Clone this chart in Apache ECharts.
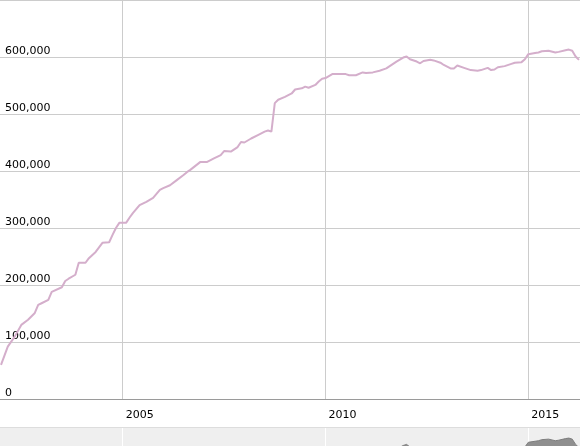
<!DOCTYPE html>
<html>
<head>
<meta charset="utf-8">
<script src="https://cdn.jsdelivr.net/npm/echarts@6.0.0/dist/echarts.min.js"></script>
<style>
html,body{margin:0;padding:0;background:#fff;}
#chart{width:580px;height:446px;}
</style>
</head>
<body>
<div id="chart"></div>
<script>
var months = ['2002-01','2002-03','2002-05','2002-07','2002-09','2002-11','2002-12',
'2003-01','2003-03','2003-04','2003-07','2003-08','2003-09','2003-11','2003-12',
'2004-02','2004-03','2004-05','2004-07','2004-09','2004-10','2004-11','2004-12',
'2005-02','2005-03','2005-04','2005-06','2005-08','2005-10','2005-12',
'2006-01','2006-03','2006-05','2006-07','2006-08','2006-09','2006-12',
'2007-02','2007-04','2007-06','2007-07','2007-09','2007-11','2007-12',
'2008-01','2008-03','2008-05','2008-07','2008-08','2008-09','2008-10','2008-11',
'2009-01','2009-03','2009-04','2009-06','2009-07','2009-08','2009-10','2009-11','2009-12',
'2010-01','2010-03','2010-05','2010-07','2010-08','2010-10','2010-12',
'2011-01','2011-03','2011-05','2011-07','2011-08','2011-10','2011-12',
'2012-01','2012-02','2012-04','2012-05','2012-06','2012-08','2012-09','2012-11','2012-12',
'2013-02','2013-03','2013-04','2013-06','2013-08','2013-10','2013-11',
'2014-01','2014-02','2014-03','2014-04','2014-06','2014-08','2014-09','2014-11','2014-12',
'2015-01','2015-03','2015-04','2015-05','2015-07','2015-09','2015-10','2015-12',
'2016-01','2016-02','2016-03','2016-04'];
var values = [60000,92000,109000,130000,139000,151000,165000,
168000,174000,188000,196000,207000,211000,218000,239000,
239000,247000,258000,274000,275000,288000,300000,309000,
309000,318000,326000,340000,346000,353000,367000,
370000,375000,384000,393000,398000,402000,416000,
416000,422000,428000,435000,434000,442000,451000,
450000,457000,463000,469000,471000,469000,519000,525000,
530000,536000,543000,545000,548000,546000,551000,557000,562000,
563000,570000,570000,570000,568000,568000,573000,
572000,573000,576000,580000,584000,592000,599000,
601000,596000,592000,589000,593000,595000,594000,590000,586000,
580000,580000,585000,581000,577000,576000,577000,
581000,577000,578000,582000,584000,588000,590000,591000,596000,
605000,607000,608000,610000,611000,608000,609000,612000,
613000,611000,601000,595000];
var yearTicks = [2005, 2010, 2015];
var yTicks = [0,100000,200000,300000,400000,500000,600000];

// month string -> fractional year (position on the value axis)
function toYear(m){ var p = m.split('-'); return +p[0] + (+p[1] - 1) / 12; }
var data = months.map(function(m, i){ return [toYear(m), values[i]]; });
var xMin = 2001.975, xMax = 2016.275;
var font = 'DejaVu Sans, Verdana, sans-serif';

var chart = echarts.init(document.getElementById('chart'), null, {renderer:'canvas'});
chart.setOption({
  animation: false,
  backgroundColor: '#fff',
  grid: [
    {left: 0, right: 0, top: 0, bottom: 47, containLabel: false},
    {left: 0, right: 0, top: 427, height: 19, show: true, backgroundColor: '#efefef', borderWidth: 0}
  ],
  xAxis: [
    {
      type: 'value', gridIndex: 0, min: xMin, max: xMax,
      axisLine: {show: true, lineStyle: {color: '#9a9a9a', width: 1}},
      axisTick: {show: false, customValues: yearTicks},
      axisLabel: {
        customValues: yearTicks,
        formatter: function(v){ return String(Math.round(v)); },
        align: 'left', padding: [0,0,0,3], margin: 11,
        fontFamily: font, fontSize: 11, color: '#000'
      },
      splitLine: {show: true, lineStyle: {color: '#cccccc', width: 1}}
    },
    {
      type: 'value', gridIndex: 1, min: xMin, max: xMax, position: 'top',
      axisLine: {show: true, lineStyle: {color: '#dddddd'}},
      axisTick: {show: false, customValues: yearTicks},
      axisLabel: {show: false},
      splitLine: {show: true, lineStyle: {color: '#ffffff', width: 1}}
    }
  ],
  yAxis: [
    {
      type: 'value', gridIndex: 0, min: 0, max: 700000, interval: 100000,
      axisLine: {show: false}, axisTick: {show: false},
      axisLabel: {
        inside: true, margin: 5, align: 'left', verticalAlign: 'bottom',
        padding: [0,0,0,0],
        fontFamily: font, fontSize: 11, color: '#000',
        formatter: function(v){ return yTicks.indexOf(v) >= 0 ? v.toLocaleString('en-US') : ''; }
      },
      splitLine: {show: true, lineStyle: {color: '#cccccc', width: 1}}
    },
    {
      type: 'value', gridIndex: 1, min: 598000, max: 634000,
      axisLine: {show: false}, axisTick: {show: false}, axisLabel: {show: false},
      splitLine: {show: false}
    }
  ],
  series: [
    {
      type: 'line', xAxisIndex: 0, yAxisIndex: 0, data: data,
      showSymbol: false, smooth: false,
      lineStyle: {color: '#d4aecb', width: 2}
    },
    {
      type: 'line', xAxisIndex: 1, yAxisIndex: 1, data: data,
      showSymbol: false, smooth: false, clip: true,
      lineStyle: {color: '#7d7d7d', width: 1},
      areaStyle: {color: '#8f8f8f', opacity: 1, origin: 'start'}
    }
  ]
});
</script>
</body>
</html>
